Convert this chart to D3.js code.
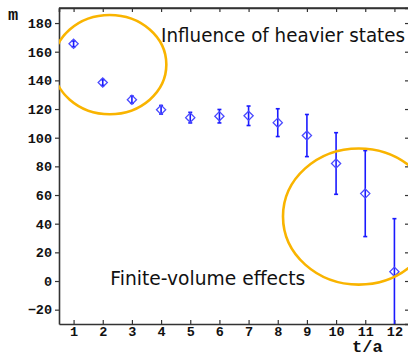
<!DOCTYPE html>
<html>
<head>
<meta charset="utf-8">
<script src="https://cdn.jsdelivr.net/npm/d3@7"></script>
<style>
  body{margin:0;background:#fff}
  svg{display:block}
</style>
</head>
<body>
<div id="chart"></div>
<script>
// data
const tValues=[1,2,3,4,5,6,7,8,9,10,11,12]
const mValues=[165.5,138.5,126.5,119.5,114,115,115.3,110.5,101.5,82,61,6.5]
const mErrors=[2,2,2.5,3,3.7,4.7,6.8,9.7,14.7,21.5,30,37]
const xTicks=[1,2,3,4,5,6,7,8,9,10,11,12]
const yTicks=[-20,0,20,40,60,80,100,120,140,160,180]
// highlighted regions (centre and radii in data units)
const ellipses=[
  {cx:2.24,cy:151,rx:1.94,ry:34.6},
  {cx:10.78,cy:45,rx:2.6,ry:47.5}
]
const notes=[
  {text:'Influence of heavier states',t:4.0,m:167,len:244},
  {text:'Finite-volume effects',t:2.26,m:-3,len:195}
]

const W=408,H=354
const margin=({top:8,right:-1,bottom:30,left:59})
const width=W-margin.left-margin.right,
  height=H-margin.top-margin.bottom

const svg=d3.select('#chart').append('svg')
  .attr('width',W)
  .attr('height',H)

const g=svg.append('g')
  .attr('transform','translate('+margin.left+','+margin.top+')')

const xScale=d3.scaleLinear()
  .domain([0.5,12.5])
  .range([0,width])

const yScale=d3.scaleLinear()
  .domain([-30,190.5])
  .range([height,0])

g.append('clipPath').attr('id','clip')
  .append('rect').attr('width',width).attr('height',height)

const axisColor='#333'
const tickFont='"Liberation Mono", monospace'

// frame ticks on top and right (inward)
const xTop=d3.axisTop(xScale).tickValues(xTicks).tickSize(-4).tickFormat('')
g.append('g').call(xTop)
const yRight=d3.axisRight(yScale).tickValues(yTicks).tickSize(-4).tickFormat('')
g.append('g').attr('transform',`translate(${width},0)`).call(yRight)

const xAxis=d3.axisBottom(xScale).tickValues(xTicks).tickSizeInner(-4).tickSizeOuter(0).tickPadding(2)
g.append('g').attr('class','x-axis')
  .attr('transform',`translate(0,${height})`)
  .call(xAxis)

const yAxis=d3.axisLeft(yScale).tickValues(yTicks).tickSizeInner(4).tickSizeOuter(0).tickPadding(3)
  .tickFormat(d=>d<0?'\u2212'+(-d):d)
g.append('g').attr('class','y-axis').call(yAxis)

g.selectAll('.domain').attr('stroke',axisColor).attr('stroke-width',1.6)
g.selectAll('.tick line').attr('stroke',axisColor).attr('stroke-width',1.2)
g.selectAll('.tick text')
  .attr('font-family',tickFont)
  .attr('font-weight','bold')
  .attr('font-size',13.5)
  .attr('fill','#111')

// top border line
g.append('line').attr('x1',0).attr('x2',width).attr('y1',0).attr('y2',0)
  .attr('stroke',axisColor).attr('stroke-width',1.6)

const plot=g.append('g').attr('clip-path','url(#clip)')

const data=tValues.map((t,i)=>({t,m:mValues[i],e:mErrors[i]}))

// error bars
const bars=plot.selectAll('.err').data(data).join('g').attr('class','err')
  .attr('stroke','#1a1aff').attr('stroke-width',1.6)
bars.append('line')
  .attr('x1',d=>xScale(d.t)).attr('x2',d=>xScale(d.t))
  .attr('y1',d=>yScale(d.m+d.e)).attr('y2',d=>yScale(d.m-d.e))
bars.append('line')
  .attr('x1',d=>xScale(d.t)-2).attr('x2',d=>xScale(d.t)+2)
  .attr('y1',d=>yScale(d.m+d.e)).attr('y2',d=>yScale(d.m+d.e))
bars.append('line')
  .attr('x1',d=>xScale(d.t)-2).attr('x2',d=>xScale(d.t)+2)
  .attr('y1',d=>yScale(d.m-d.e)).attr('y2',d=>yScale(d.m-d.e))

// diamond markers
const r=4.6
plot.selectAll('.pt').data(data).join('path').attr('class','pt')
  .attr('d',d=>{
    const x=xScale(d.t),y=yScale(d.m)
    return `M${x},${y-r}L${x+r},${y}L${x},${y+r}L${x-r},${y}Z`
  })
  .attr('fill','none')
  .attr('stroke','#4a4aff')
  .attr('stroke-width',1.3)

// ellipses
plot.selectAll('.ring').data(ellipses).join('ellipse').attr('class','ring')
  .attr('cx',d=>xScale(d.cx)).attr('cy',d=>yScale(d.cy))
  .attr('rx',d=>xScale(d.cx+d.rx)-xScale(d.cx))
  .attr('ry',d=>yScale(d.cy-d.ry)-yScale(d.cy))
  .attr('fill','none')
  .attr('stroke','#f9b400')
  .attr('stroke-width',2.6)

// annotations
g.selectAll('.note').data(notes).join('text').attr('class','note')
  .attr('x',d=>xScale(d.t)).attr('y',d=>yScale(d.m))
  .attr('textLength',d=>d.len)
  .attr('lengthAdjust','spacingAndGlyphs')
  .attr('font-family','"DejaVu Sans", sans-serif')
  .attr('font-size',19.5)
  .attr('fill','#111')
  .text(d=>d.text)

// axis titles
svg.append('text')
  .attr('x',8).attr('y',20)
  .attr('font-family',tickFont).attr('font-weight','bold').attr('font-size',17)
  .attr('fill','#111')
  .text('m')
svg.append('text')
  .attr('x',352).attr('y',352)
  .attr('font-family',tickFont).attr('font-weight','bold').attr('font-size',17)
  .attr('fill','#111')
  .text('t/a')
</script>
</body>
</html>
